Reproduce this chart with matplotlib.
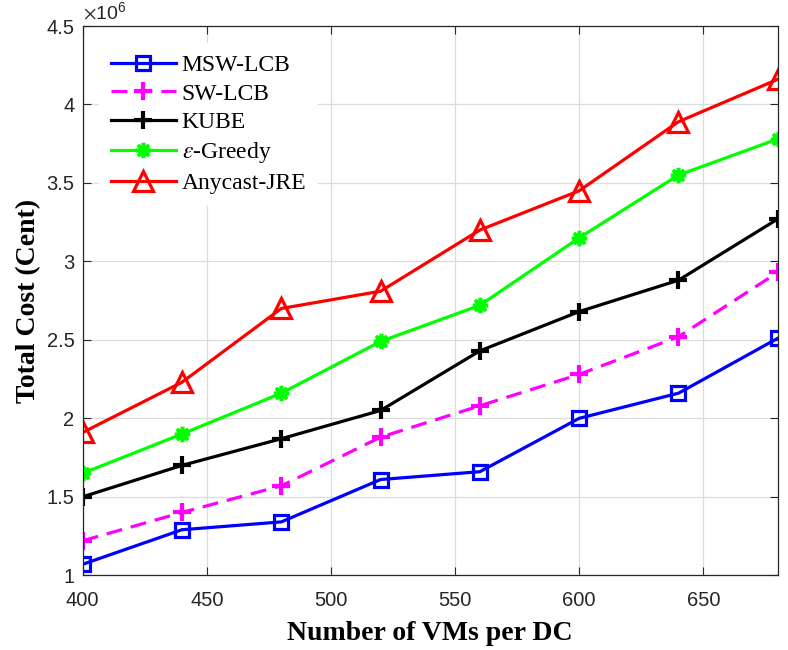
import matplotlib
matplotlib.use("Agg")
import matplotlib.pyplot as plt

plt.rcParams["mathtext.fontset"] = "stix"

# data (cost in units of 1e6 cents)
vms = [400, 440, 480, 520, 560, 600, 640, 680]
msw_lcb = [1.07, 1.29, 1.34, 1.61, 1.66, 2.00, 2.16, 2.51]
sw_lcb = [1.22, 1.40, 1.57, 1.88, 2.08, 2.28, 2.52, 2.93]
kube = [1.50, 1.70, 1.87, 2.05, 2.43, 2.68, 2.88, 3.27]
eps_greedy = [1.65, 1.90, 2.16, 2.49, 2.72, 3.15, 3.55, 3.78]
anycast_jre = [1.91, 2.23, 2.70, 2.81, 3.20, 3.45, 3.89, 4.16]

x_ticks = [400, 450, 500, 550, 600, 650]
y_ticks = [1, 1.5, 2, 2.5, 3, 3.5, 4, 4.5]
y_tick_labels = ["1", "1.5", "2", "2.5", "3", "3.5", "4", "4.5"]

fig = plt.figure(figsize=(7.88, 6.5), dpi=100)
ax = fig.add_axes([0.105, 0.115, 0.882, 0.845])

lw = 2.3
mew = 2.3
ax.plot(vms, msw_lcb, color="#0000ff", lw=lw, marker="s", ms=10,
        mfc="none", mew=mew, label="MSW-LCB")
ax.plot(vms, sw_lcb, color="#ff00ff", lw=lw, marker="+", ms=13,
        mew=mew + 0.7, dashes=(5, 2.8), label="SW-LCB")
ax.plot(vms, kube, color="black", lw=lw, marker="+", ms=13,
        mew=mew + 0.7, label="KUBE")
ax.plot(vms, eps_greedy, color="#00ff00", lw=lw, marker=(8, 2, 0), ms=11,
        mew=2.6, label=r"$\epsilon$-Greedy")
ax.plot(vms, anycast_jre, color="#ff0000", lw=lw, marker="^", ms=15,
        mfc="none", mew=mew, label="Anycast-JRE")

ax.set_xlim(400, 680)
ax.set_ylim(1, 4.5)
ax.set_xticks(x_ticks)
ax.set_yticks(y_ticks)
ax.set_yticklabels(y_tick_labels)

for lab in ax.get_xticklabels() + ax.get_yticklabels():
    lab.set_fontfamily("Liberation Sans")
    lab.set_fontsize(14.5)
    lab.set_color("#262626")

ax.tick_params(direction="in", top=True, right=True, length=6,
               width=0.8, color="#262626")
ax.tick_params(axis="x", pad=11)
ax.tick_params(axis="y", pad=6)
for sp in ax.spines.values():
    sp.set_color("#262626")
    sp.set_linewidth(0.9)

ax.grid(True, color="#dcdcdc", lw=0.9)
ax.set_axisbelow(True)

ax.text(0.0, 1.006, r"$\times\mathregular{10^{6}}$", transform=ax.transAxes,
        family="Liberation Sans", fontsize=14, color="#262626",
        va="bottom", ha="left")

ax.set_xlabel("Number of VMs per DC", family="Liberation Serif",
              weight="bold", fontsize=20, labelpad=8)
ax.set_ylabel("Total Cost (Cent)", family="Liberation Serif",
              weight="bold", fontsize=20, labelpad=4)

leg = ax.legend(loc="upper left", bbox_to_anchor=(0.01, 0.987),
                prop={"family": "Liberation Serif", "size": 17},
                frameon=True, handlelength=2.75, handletextpad=0.25,
                labelspacing=0.3, borderpad=0.5, borderaxespad=0.4)
leg.get_frame().set_edgecolor("none")
leg.get_frame().set_facecolor("white")
leg.get_frame().set_alpha(1)

plt.savefig("out.png", dpi=100)
plt.close()
